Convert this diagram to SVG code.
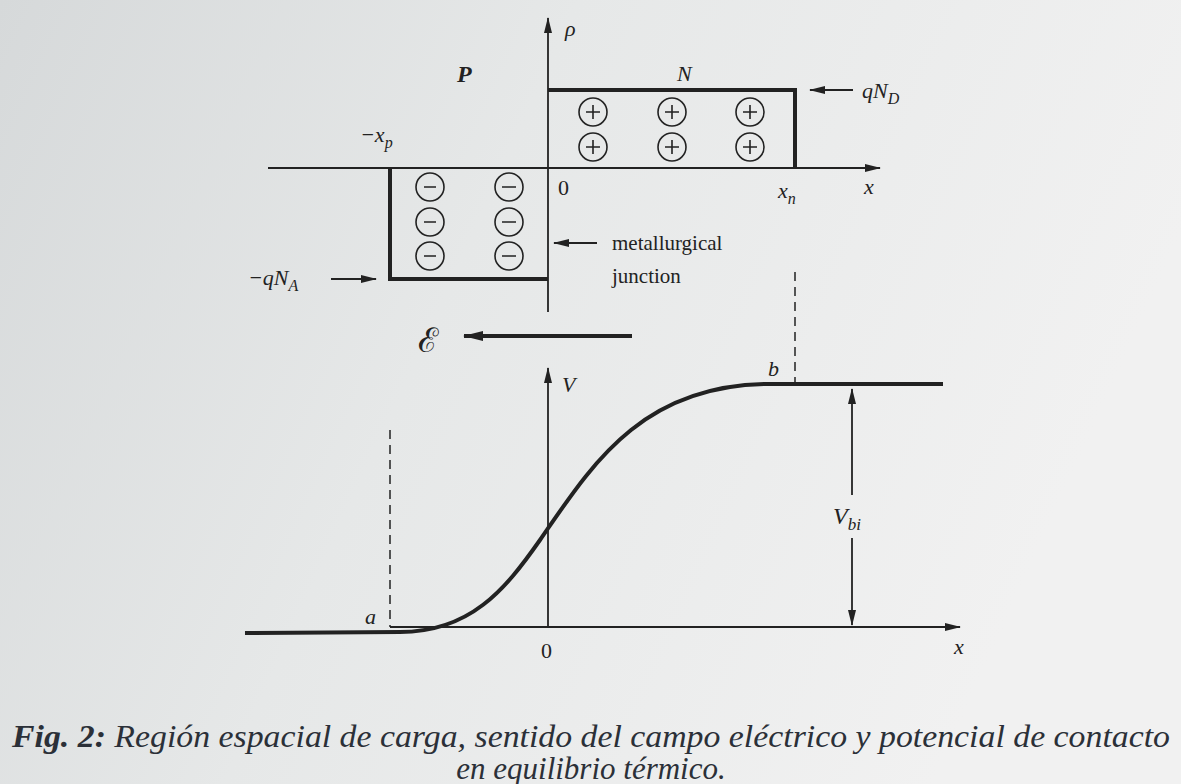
<svg xmlns="http://www.w3.org/2000/svg" width="1181" height="784" viewBox="0 0 1181 784">
<defs>
<linearGradient id="bg" x1="0" y1="0" x2="1" y2="0.3">
<stop offset="0" stop-color="#d6d9da"/>
<stop offset="0.45" stop-color="#e6e8e8"/>
<stop offset="1" stop-color="#f1f1f1"/>
</linearGradient>
<marker id="ah" viewBox="0 0 16 8" refX="15" refY="4" markerWidth="16" markerHeight="8" markerUnits="userSpaceOnUse" orient="auto">
<path d="M0,0 L16,4 L0,8 Z" fill="#222"/>
</marker>
<marker id="ahb" viewBox="0 0 20 10" refX="19" refY="5" markerWidth="20" markerHeight="10" markerUnits="userSpaceOnUse" orient="auto">
<path d="M0,0 L20,5 L0,10 Z" fill="#222"/>
</marker>
</defs>
<style>
.ln{stroke:#222;fill:none;stroke-width:1.8}
.thick{stroke:#222;fill:none;stroke-width:4}
.dash{stroke:#222;fill:none;stroke-width:1.5;stroke-dasharray:9,6}
.ion{stroke:#222;fill:none;stroke-width:1.6}
.t{font-family:"Liberation Serif",serif;fill:#222}
.i{font-style:italic}
.cap{font-family:"Liberation Serif",serif;font-style:italic;fill:#2b3038;font-size:31px}
</style>
<rect x="0" y="0" width="1181" height="784" fill="url(#bg)"/>

<g id="top-axes">
<line class="ln" x1="548" y1="312" x2="548" y2="18" marker-end="url(#ah)"/>
<line class="ln" x1="268" y1="168" x2="880" y2="168" marker-end="url(#ah)"/>
</g>
<g id="n-region">
<polyline class="thick" points="548,90 795,90 795,168"/>
<g class="ion">
<circle cx="593" cy="112" r="14"/><circle cx="593" cy="147" r="14"/>
<circle cx="672" cy="112" r="14"/><circle cx="672" cy="147" r="14"/>
<circle cx="750" cy="112" r="14"/><circle cx="750" cy="147" r="14"/>
<path d="M586,112h14M593,105v14M586,147h14M593,140v14M665,112h14M672,105v14M665,147h14M672,140v14M743,112h14M750,105v14M743,147h14M750,140v14"/>
</g>
</g>
<g id="p-region">
<polyline class="thick" points="390,168 390,279 548,279"/>
<g class="ion">
<circle cx="430" cy="187" r="14"/><circle cx="430" cy="222" r="14"/><circle cx="430" cy="256" r="14"/>
<circle cx="509" cy="187" r="14"/><circle cx="509" cy="222" r="14"/><circle cx="509" cy="256" r="14"/>
<path d="M424,187h12M424,222h12M424,256h12M502,187h14M502,222h14M502,256h14"/>
</g>
</g>
<g id="top-labels">
<text class="t i" x="565" y="36" font-size="22">ρ</text>
<text class="t i" x="457" y="82" font-size="24" font-weight="bold">P</text>
<text class="t i" x="677" y="81" font-size="22">N</text>
<text class="t i" x="360" y="142" font-size="22">−x<tspan font-size="16" dy="6">p</tspan></text>
<text class="t" x="558" y="195" font-size="22">0</text>
<text class="t i" x="778" y="198" font-size="22">x<tspan font-size="16" dy="6">n</tspan></text>
<text class="t i" x="864" y="194" font-size="22">x</text>
<text class="t i" x="862" y="98" font-size="22">qN<tspan font-size="16" dy="6">D</tspan></text>
<text class="t i" x="248" y="285" font-size="22">−qN<tspan font-size="16" dy="6">A</tspan></text>
<text class="t" x="612" y="250" font-size="21">metallurgical</text>
<text class="t" x="612" y="283" font-size="21">junction</text>
<text x="418" y="352" font-size="34" font-family="DejaVu Serif, Noto Sans, serif" fill="#222">ℰ</text>
</g>
<g id="connectors">
<line class="ln" x1="853" y1="90" x2="810" y2="90" marker-end="url(#ah)"/>
<line class="ln" x1="331" y1="279" x2="376" y2="279" marker-end="url(#ah)"/>
<line class="ln" x1="597" y1="243" x2="554" y2="243" marker-end="url(#ah)"/>
<line class="thick" x1="632" y1="336" x2="464" y2="336" marker-end="url(#ahb)"/>
</g>

<g id="bottom-axes">
<line class="ln" x1="548" y1="628" x2="548" y2="368" marker-end="url(#ah)"/>
<line class="ln" x1="390" y1="627" x2="960" y2="627" marker-end="url(#ah)"/>
</g>
<g id="potential-curve">
<path class="thick" stroke-width="3.5" d="M245,633 L400,632 C470,632 505,590 540,540 C590,468 640,384 770,384 L943,384"/>
</g>
<g id="guides">
<line class="dash" x1="390" y1="430" x2="390" y2="627"/>
<line class="dash" x1="795" y1="272" x2="795" y2="383"/>
<line class="ln" stroke-width="1.4" x1="852" y1="495" x2="852" y2="389" marker-end="url(#ah)"/>
<line class="ln" stroke-width="1.4" x1="852" y1="538" x2="852" y2="625" marker-end="url(#ah)"/>
</g>
<g id="bottom-labels">
<text class="t i" x="562" y="392" font-size="22">V</text>
<text class="t i" x="768" y="376" font-size="22">b</text>
<text class="t i" x="365" y="624" font-size="22">a</text>
<text class="t" x="541" y="658" font-size="22">0</text>
<text class="t i" x="954" y="654" font-size="22">x</text>
<text class="t i" x="833" y="524" font-size="24">V<tspan font-size="17" dy="6">bi</tspan></text>
</g>

<g id="caption">
<text class="cap" x="12" y="747" textLength="1158" lengthAdjust="spacingAndGlyphs"><tspan font-weight="bold">Fig. 2:</tspan> Región espacial de carga, sentido del campo eléctrico y potencial de contacto</text>
<text class="cap" x="591" y="779" text-anchor="middle">en equilibrio térmico.</text>
</g>
</svg>
